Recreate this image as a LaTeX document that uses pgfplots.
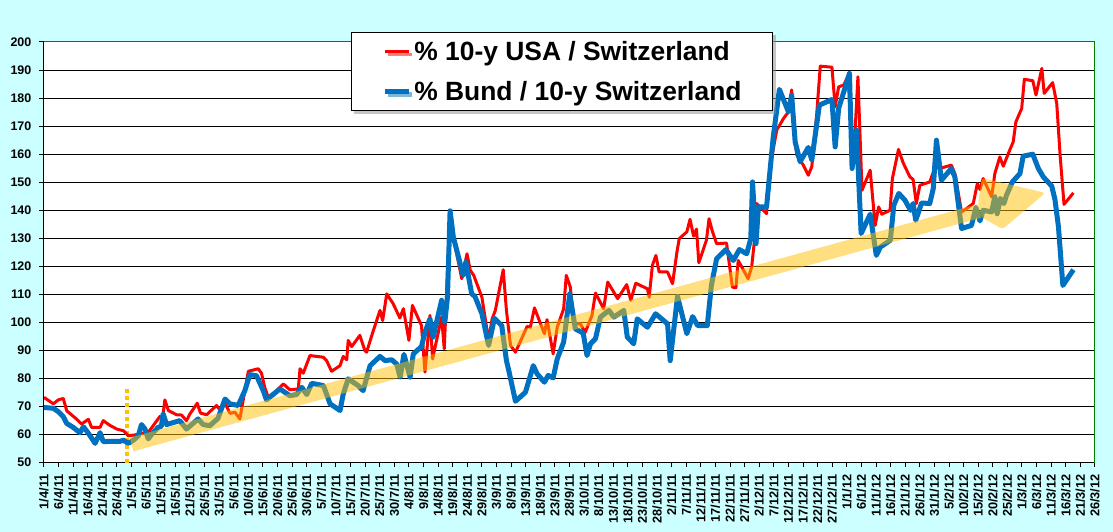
\documentclass[border=0pt]{standalone}
\usepackage{pgfplots}
\pgfplotsset{compat=1.18}
\usepackage{fontspec}
\setmainfont{Liberation Sans}
\usetikzlibrary{shadows}
\definecolor{bgcyan}{HTML}{CCFFFF}
\definecolor{usred}{HTML}{FF0000}
\definecolor{bundblue}{HTML}{0070C0}
\definecolor{gold}{HTML}{FFC000}
\definecolor{framegreen}{HTML}{008000}
\begin{document}
\begin{tikzpicture}
\fill[bgcyan] (0bp,0bp) rectangle (1113bp,532bp);
\useasboundingbox (0bp,0bp) rectangle (1113bp,532bp);
\begin{axis}[
  at={(44bp,69.3bp)}, anchor=south west,
  width=1051bp, height=420.7bp, scale only axis,
  xmin=0, xmax=360, ymin=50, ymax=200,
  axis background/.style={fill=white},
  axis lines*=left,
  axis line style={black, line width=1bp},
  tick align=outside,
  major tick length=4.5bp,
  tick style={black, line width=1bp},
  ymajorgrids, grid style={black, line width=1bp},
  ytick={50,60,...,200},
  xtick={0,5,...,360},
  xticklabels={1/4/11,6/4/11,11/4/11,16/4/11,21/4/11,26/4/11,
    1/5/11,6/5/11,11/5/11,16/5/11,21/5/11,26/5/11,31/5/11,
    5/6/11,10/6/11,15/6/11,20/6/11,25/6/11,30/6/11,
    5/7/11,10/7/11,15/7/11,20/7/11,25/7/11,30/7/11,
    4/8/11,9/8/11,14/8/11,19/8/11,24/8/11,29/8/11,
    3/9/11,8/9/11,13/9/11,18/9/11,23/9/11,28/9/11,
    3/10/11,8/10/11,13/10/11,18/10/11,23/10/11,28/10/11,
    2/11/11,7/11/11,12/11/11,17/11/11,22/11/11,27/11/11,
    2/12/11,7/12/11,12/12/11,17/12/11,22/12/11,27/12/11,
    1/1/12,6/1/12,11/1/12,16/1/12,21/1/12,26/1/12,31/1/12,
    5/2/12,10/2/12,15/2/12,20/2/12,25/2/12,
    1/3/12,6/3/12,11/3/12,16/3/12,21/3/12,26/3/12},
  /pgf/number format/assume math mode=true,
  yticklabel style={font=\bfseries\fontsize{12.5}{12.5}\selectfont, inner sep=0pt},
  xticklabel style={font=\bfseries\fontsize{12.8}{12.8}\selectfont, inner sep=0pt, rotate=90, anchor=east},
  yticklabel shift=8bp,
  xticklabel shift=7bp,
  legend cell align=left,
  legend image code/.code={\draw[#1] (0bp,0bp) -- (24bp,0bp);},
  legend style={at={(0.2921,1.0238)}, anchor=north west, draw=black, line width=0.8bp, fill=white,
    inner xsep=31bp, inner ysep=9bp, row sep=19bp,
    font=\bfseries\fontsize{26.5}{26.5}\selectfont,
    nodes={inner sep=0pt},
    drop shadow={shadow xshift=3bp, shadow yshift=-3bp, fill=black!45},
    /tikz/every odd column/.append style={column sep=3bp}},
]
\draw[gold, line width=3.5bp, dash pattern=on 3.5bp off 3.5bp] (axis cs:28.5,50) -- (axis cs:28.5,76.5);
\addplot[color=usred, line width=3bp, line join=round] coordinates {
(0,73.3) (3.2,71) (4.9,72.4) (6.6,72.9) (7.8,68.5) (11.2,65.5) (12.9,63.8) (15.2,65.5) (16.3,62.6) (19.2,62.6) (20.3,65) (22.6,63.3) (24.9,62) (27.2,61.4) (28.9,59.6) (31.7,60) (34,60.5) (35.7,60.8) (37.4,63.2) (39.7,66.5) (40.6,65.6) (41.4,72.4) (42.6,68.6) (45.4,67.1) (47.1,67) (48.8,65) (50,67.4) (52.5,71.2) (53.6,67.7) (55.7,67.1) (59.1,70.4) (60.3,68.8) (62,71.2) (63.7,67.6) (65.4,68) (67.1,65.6) (68.8,75.7) (70,82.6) (73.4,83.5) (74.5,81.9) (75.6,76.9) (76.8,73.3) (79.1,75.1) (82,78.1) (84.2,76) (87.1,76.3) (87.7,83.5) (88.8,81.9) (91.1,88.2) (95.7,87.6) (96.8,86.4) (98.5,82.6) (101.4,84.6) (102.5,87.9) (103.7,86.7) (104.2,93.6) (105.4,91.4) (108.2,95.4) (109.9,90) (110.5,89.4) (112.8,97.1) (115.1,104.3) (116,100.7) (117.4,110.2) (119.6,106.7) (121.9,101.6) (123.1,104.9) (125,93.6) (126.2,106.1) (129.3,98.9) (130.5,82.3) (132.2,102.5) (133.1,87) (136.2,101.9) (137.1,90.6) (139.1,139.4) (140.2,130.5) (143.1,115.6) (144.9,124.5) (146,118.6) (147.2,116.8) (150,109) (152.3,93.6) (153.5,101.3) (154.6,104.3) (157.3,118.8) (158.4,104.3) (159.8,91.8) (161.5,89.4) (165.5,98.6) (166.6,98.3) (168,105.2) (171.4,96) (172.3,101) (174.4,88.8) (175.8,98.3) (178,104.9) (178.9,116.8) (180.3,112.6) (181.4,99.5) (183.7,99.5) (185.4,96.5) (187.7,102.5) (188.9,110.5) (191.7,104.9) (193.1,114.4) (196.5,108.5) (199.6,113.5) (201,107.9) (202.7,114) (206.7,112) (207.3,109) (208.4,120.4) (209.6,123.9) (210.7,118) (213.6,118) (215.3,113.8) (216.8,125.1) (217.6,129.9) (220.2,132.3) (221.3,136.8) (222.5,130.8) (223.5,133.3) (224.3,121.3) (226.9,129.3) (227.8,137) (229,132.3) (230.4,128.1) (233.8,128.3) (235.8,112.6) (237,112.4) (237.8,122.1) (241.2,115.6) (242.4,119.8) (243.5,130.5) (244.1,142.4) (247.5,138.8) (248.7,155.5) (251,168.6) (253.3,172.7) (255,175.1) (256.1,182.9) (257.3,164.4) (257.9,159.6) (260.1,156.1) (261.8,152.5) (263,155.5) (264.7,174.5) (265.9,191.4) (269.9,191) (271,176.9) (272.2,184) (273.9,184.6) (275.6,188.2) (276.8,155.5) (277.9,169.8) (278.8,187.6) (280.2,147.1) (283,154.3) (284.7,134.6) (285.9,141.2) (287,138.6) (289.8,140) (290.6,151.3) (292.7,161.7) (294.3,156.9) (296.6,151.9) (297.7,151) (298.8,142.4) (300,148.9) (303.4,150.1) (305.1,154.9) (305.7,164.4) (306.8,154.9) (310.8,156.1) (312,153.1) (314.3,139.4) (316,140.6) (318.3,142.4) (319.7,149.5) (320.6,147.4) (321.7,151.3) (324.6,144.8) (325.7,153.1) (327.4,159) (328.6,155.7) (330.3,160.2) (332,164.4) (332.9,171.5) (334.9,176.3) (335.8,186.7) (338.7,186.2) (339.8,181.1) (341.8,190.6) (342.6,181.7) (345.5,185.5) (346.9,178.1) (348.1,159) (349.4,142.1) (352.6,146.2)
};
\addlegendentry{\% 10-y USA / Switzerland}
\addplot[color=bundblue, line width=5bp, line join=round] coordinates {
(0,69.7) (3.2,69.4) (4.9,68.2) (6.6,66.4) (7.8,64) (10,62.6) (12.3,60.7) (13.5,62.8) (15.2,60.5) (17.5,56.9) (19.2,60.7) (20.3,57.5) (22.6,57.6) (26,57.6) (27.2,58) (28.9,56.9) (30.6,58) (32.3,59.6) (33.4,63.6) (34.6,62) (35.7,58.5) (37.4,60.8) (39.1,62.6) (40.2,63) (40.8,67.4) (42,63.6) (46.5,65) (48.8,62) (52.8,65.6) (54.5,63.6) (56.8,63.2) (59.6,65.8) (62,72.7) (63.7,71) (66.5,70.4) (68.8,75.7) (70.5,81.4) (72.8,81) (75.1,75.7) (76.2,72.4) (80.8,76.3) (84.2,73.9) (86.5,74.3) (88.3,76.9) (90,74.3) (91.7,78.3) (95.7,77.5) (98,71) (101.4,68.6) (102.5,74.5) (104.2,79.9) (107.6,77.5) (109.3,75.7) (111.7,84.6) (115.1,87.9) (116.8,86.4) (119.1,86.7) (120.8,85.2) (122,80.5) (123.3,88.6) (125.4,80.5) (126.5,88.8) (129.3,91.4) (130.5,96.5) (132.2,101.3) (133.3,94.8) (136.2,107.9) (137.3,100.1) (138.2,109) (139.1,139.8) (140.2,130.5) (143.6,116.8) (144.5,121.5) (146.5,110.2) (147.6,109.3) (150,103.1) (152.3,91.8) (154.3,101.5) (156.8,98.9) (158.4,86.4) (159.2,82.9) (161.5,71.9) (164.9,75.1) (167.6,84.6) (168.9,81.7) (171.4,78.7) (172.7,81.1) (174.4,80.2) (175.8,87) (178,93) (180.1,110.2) (182,97.7) (184.7,96.2) (186,88.2) (187.2,92.4) (188.9,94.2) (190.6,101.9) (193.5,104.3) (195.2,101.9) (198.6,104.3) (199.8,94.8) (202,92.4) (203.2,101.3) (206.7,98.3) (209.5,103.1) (213.6,99.5) (214.5,86.4) (217,109.3) (220.2,96) (222.2,102.1) (223.9,98.9) (227.2,98.9) (228.6,113.2) (230.4,122.7) (233.6,126) (236.1,122.1) (238.2,126) (240.7,124.5) (242.1,129.9) (242.7,150.1) (243.9,128.1) (244.7,141.2) (247.5,141.2) (249.8,166.2) (251.9,183.1) (255,175.1) (256.1,181.1) (257.3,164.4) (259,157.3) (261.8,162.4) (263,157.9) (265.6,177.5) (269.9,179.5) (271,162.6) (272.2,176.3) (275.9,188.8) (276.8,154.9) (278.3,168.6) (279.9,131.7) (283,138.6) (285.1,123.9) (286.5,126.9) (289.9,129.3) (291.1,141.8) (292.8,146) (294.9,143.6) (296.8,140) (297.7,142.4) (298.6,136.4) (300.6,142.6) (303.4,142.4) (304.6,147.7) (305.7,165) (307.4,150.7) (310.8,154.9) (312,151.9) (314.3,133.5) (317.7,134.6) (319.2,141) (320.6,136.2) (321.7,140) (324.6,139.4) (325.7,144.8) (326.5,138.8) (327.6,144.2) (328.8,142.4) (329.7,145.4) (331.7,150.1) (334.3,153.1) (335.4,159.3) (338.7,160) (340.6,154.9) (342.3,151.9) (345.2,148.6) (346.3,143.8) (347.5,134) (349,113.2) (352.6,118.8)
};
\addlegendentry{\% Bund / 10-y Switzerland}
\draw[framegreen, line width=1bp] (rel axis cs:0,1) -- (rel axis cs:1,1) -- (rel axis cs:1,0);
\coordinate (aS) at (axis cs:30,56.49);
\coordinate (aE) at (axis cs:320.5,139.77);
\coordinate (aE2) at (axis cs:319.9,142.2);
\coordinate (aU) at (axis cs:321.3,151.5);
\coordinate (aT) at (axis cs:343.0,146.2);
\coordinate (aB1) at (axis cs:328.4,133.3);
\coordinate (aB2) at (axis cs:325.3,135.1);
\coordinate (aE1) at (axis cs:321.2,137.4);
\end{axis}
\begin{scope}[transparency group, opacity=0.5]
\draw[gold, line width=14bp] (aS) -- (aE);
\fill[gold, rounded corners=3bp] (aE2) -- (aU) -- (aT) -- (aB1) -- (aB2) -- (aE1) -- cycle;
\end{scope}
\end{tikzpicture}
\end{document}
